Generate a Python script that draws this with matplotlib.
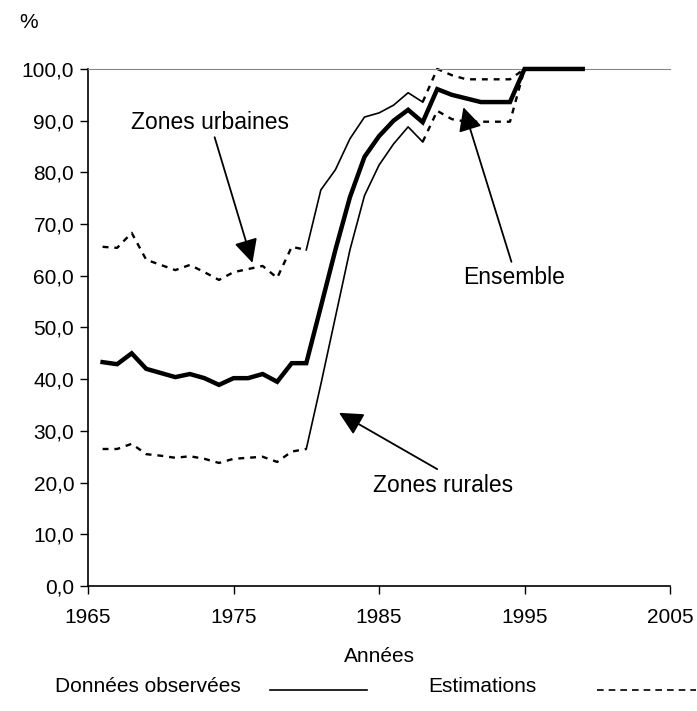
import numpy as np
import matplotlib
matplotlib.use("Agg")
import matplotlib.pyplot as plt
from matplotlib.lines import Line2D
from matplotlib.ticker import FuncFormatter

plt.rcParams["font.family"] = ["Liberation Sans", "DejaVu Sans"]

# --- Données ---
years_all = np.arange(1966, 2000)
ensemble = [43.3, 42.9, 45.0, 42.0, 41.2, 40.4, 41.0, 40.2, 38.9, 40.2,
            40.2, 41.0, 39.5, 43.1, 43.1, 54.0, 65.0, 75.2, 83.0, 87.0,
            90.0, 92.1, 89.7, 96.1, 95.0, 94.3, 93.6, 93.6, 93.6, 100.0,
            100.0, 100.0, 100.0, 100.0]

years_est_early = np.arange(1966, 1981)
urbain_est_early = [65.6, 65.4, 68.3, 63.1, 62.1, 61.1, 62.1, 60.7, 59.2,
                    60.7, 61.3, 61.9, 59.6, 65.6, 65.0]
rural_est_early = [26.5, 26.5, 27.5, 25.5, 25.2, 24.8, 25.1, 24.6, 23.8,
                   24.6, 24.8, 25.0, 24.0, 26.0, 26.5]

years_obs = np.arange(1980, 1989)
urbain_obs = [65.0, 76.6, 80.5, 86.5, 90.7, 91.5, 93.0, 95.4, 93.6]
rural_obs = [26.5, 39.0, 52.0, 65.0, 75.5, 81.4, 85.5, 88.8, 85.9]

years_est_late = np.arange(1988, 1996)
urbain_est_late = [93.6, 100.0, 98.8, 98.0, 98.0, 98.0, 98.0, 100.0]
rural_est_late = [85.9, 91.9, 90.3, 89.8, 89.8, 89.8, 89.8, 100.0]

FS = 15
DASH = (0, (2.5, 2.5))

fig = plt.figure(figsize=(6.97, 7.11), dpi=100)
ax = fig.add_axes([0.1263, 0.1758, 0.835, 0.7272])

# estimations (pointillés)
for yr, vals in [(years_est_early, urbain_est_early), (years_est_early, rural_est_early),
                 (years_est_late, urbain_est_late), (years_est_late, rural_est_late)]:
    ax.plot(yr, vals, color="black", lw=1.7, linestyle=DASH, clip_on=False)

# données observées
ax.plot(years_obs, urbain_obs, color="black", lw=1.2)
ax.plot(years_obs, rural_obs, color="black", lw=1.2)
ax.plot(years_all, ensemble, color="black", lw=3.2, solid_joinstyle="miter",
        clip_on=False, zorder=3)

ax.set_xlim(1965, 2005)
ax.set_ylim(0, 100)
ax.set_xticks(np.arange(1965, 2006, 10))
ax.set_yticks(np.arange(0, 101, 10))
ax.yaxis.set_major_formatter(FuncFormatter(lambda v, p: f"{v:.1f}".replace(".", ",")))
ax.tick_params(labelsize=FS, length=6, width=1, direction="out", pad=4)
ax.tick_params(axis="x", pad=10)

ax.spines["right"].set_visible(False)
ax.spines["top"].set_color("#888888")
ax.spines["left"].set_linewidth(1.2)
ax.spines["bottom"].set_linewidth(1.2)

ax.set_xlabel("Années", fontsize=FS, labelpad=14)
fig.text(0.028, 0.968, "%", fontsize=FS, ha="left", va="center")

# --- annotations ---
arrow = dict(arrowstyle="-|>", color="black", lw=1.3, mutation_scale=36,
             shrinkA=0, shrinkB=0)
ax.text(1973.4, 89.7, "Zones urbaines", fontsize=FS + 1.5, ha="center", va="center")
ax.annotate("", xy=(1976.3, 62.5), xytext=(1973.7, 86.8), arrowprops=arrow)
ax.text(1994.3, 59.6, "Ensemble", fontsize=FS + 1.5, ha="center", va="center")
ax.annotate("", xy=(1990.8, 92.6), xytext=(1994.1, 62.7), arrowprops=arrow)
ax.text(1989.4, 19.5, "Zones rurales", fontsize=FS + 1.5, ha="center", va="center")
ax.annotate("", xy=(1982.25, 33.5), xytext=(1989.0, 22.6), arrowprops=arrow)

# --- légende en bas ---
fig.text(0.079, 0.035, "Données observées", fontsize=FS, ha="left", va="center")
fig.add_artist(Line2D([0.387, 0.527], [0.030, 0.030], color="black", lw=1.2,
                      transform=fig.transFigure))
fig.text(0.614, 0.035, "Estimations", fontsize=FS, ha="left", va="center")
fig.add_artist(Line2D([0.857, 0.998], [0.030, 0.030], color="black", lw=1.2,
                      linestyle=(0, (4, 3)), transform=fig.transFigure))

fig.savefig("out.png", dpi=100)
